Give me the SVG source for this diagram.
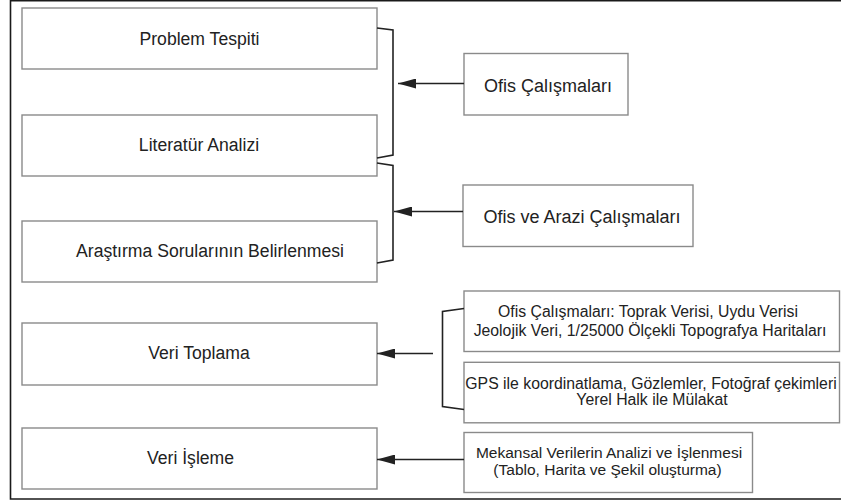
<svg xmlns="http://www.w3.org/2000/svg" width="841" height="502" viewBox="0 0 841 502">
<style>
.box{fill:#fff;stroke:#8a8a8a;stroke-width:1.4}
.big{font-family:"Liberation Sans",Arial,sans-serif;font-size:17.6px;fill:#222}
.mid{font-family:"Liberation Sans",Arial,sans-serif;font-size:18px;fill:#222}
.sm{font-family:"Liberation Sans",Arial,sans-serif;font-size:15.8px;fill:#222}
.c{text-anchor:middle}
.ln{fill:none;stroke:#222;stroke-width:1.6}
</style>
<defs>
<marker id="ah" markerUnits="userSpaceOnUse" markerWidth="18" markerHeight="10" refX="18" refY="5" orient="auto">
<path d="M0,0 L18,5 L0,10 Z" fill="#222"/>
</marker>
</defs>
<rect width="841" height="502" fill="#fff"/>
<path d="M841,0.8 H10.5 V499 H841" fill="none" stroke="#1a1a1a" stroke-width="1.6"/>
<g id="n1"><rect class="box" x="22" y="8" width="355" height="61"/><text class="big c" x="199.5" y="44.5">Problem Tespiti</text></g>
<g id="n2"><rect class="box" x="22" y="115" width="355" height="61"/><text class="big c" x="199" y="150.5">Literatür Analizi</text></g>
<g id="n3"><rect class="box" x="22" y="221" width="355" height="61"/><text class="big c" x="210" y="256.5">Araştırma Sorularının Belirlenmesi</text></g>
<g id="n4"><rect class="box" x="22" y="323" width="355" height="62"/><text class="big c" x="199" y="359">Veri Toplama</text></g>
<g id="n5"><rect class="box" x="22" y="428" width="355" height="61"/><text class="big" x="147" y="464">Veri İşleme</text></g>
<g id="n6"><rect class="box" x="464" y="53.5" width="164" height="61.5"/><text class="mid c" x="548" y="91.5">Ofis Çalışmaları</text></g>
<g id="n7"><rect class="box" x="463" y="185" width="230" height="61.5"/><text class="mid c" x="582" y="223">Ofis ve Arazi Çalışmaları</text></g>
<g id="n8"><rect class="box" x="464" y="291" width="375.5" height="60.5"/><text class="sm c" x="648" y="316.5">Ofis Çalışmaları: Toprak Verisi, Uydu Verisi</text><text class="sm c" x="650" y="335.5">Jeolojik Veri, 1/25000 Ölçekli Topografya Haritaları</text></g>
<g id="n9"><rect class="box" x="464" y="362.3" width="375.5" height="60.5"/><text class="sm c" x="651" y="388.5">GPS ile koordinatlama, Gözlemler, Fotoğraf çekimleri</text><text class="sm c" x="652" y="405">Yerel Halk ile Mülakat</text></g>
<g id="n10"><rect class="box" x="464" y="432.5" width="288.5" height="60"/><text class="sm c" x="609" y="458" style="font-size:15.5px">Mekansal Verilerin Analizi ve İşlenmesi</text><text class="sm c" x="607.5" y="474.5" style="font-size:15.5px">(Tablo, Harita ve Şekil oluşturma)</text></g>
<g id="connectors">
<path class="ln" d="M377,28 L393,30 L393,155 L377,158"/>
<path class="ln" d="M377,163 L393,165.5 L393,260 L377,263"/>
<path class="ln" d="M464,308.5 L442.5,311.5 L442.5,406.5 L464,409.5"/>
<line class="ln" x1="464" y1="83.5" x2="398" y2="83.5" marker-end="url(#ah)"/>
<line class="ln" x1="463" y1="211.5" x2="394" y2="211.5" marker-end="url(#ah)"/>
<line class="ln" x1="433" y1="353.5" x2="377" y2="353.5" marker-end="url(#ah)"/>
<line class="ln" x1="464" y1="459.5" x2="377" y2="459.5" marker-end="url(#ah)"/>
</g>
</svg>
